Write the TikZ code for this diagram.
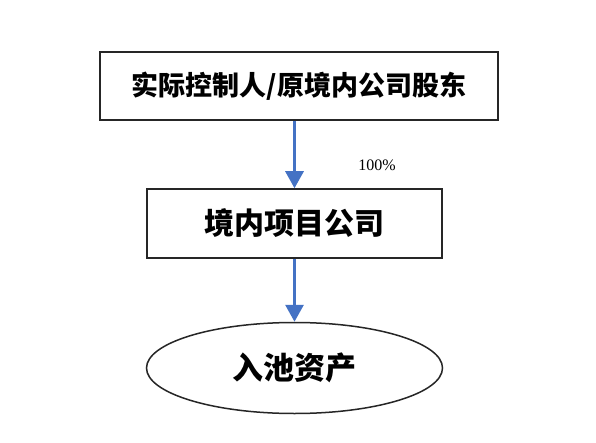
\documentclass[tikz,border=0pt]{standalone}
\usepackage{fontspec}
\newfontfamily\cjk{Noto Sans CJK SC}
\setmainfont{Liberation Serif}
\usetikzlibrary{arrows.meta,shapes.geometric}
\definecolor{arrowblue}{RGB}{68,114,196}
\tikzset{
  box/.style={draw=black!85, line width=1.5pt, minimum width=#1, inner sep=0pt},
  link/.style={draw=arrowblue, line width=3pt, -{Triangle[width=18pt,length=17pt]}}
}
\begin{document}
\begin{tikzpicture}[x=1pt,y=1pt]
\useasboundingbox[fill=white] (0,0) rectangle (596,442);
\node[box=398pt, minimum height=68pt, font=\cjk\bfseries\fontsize{27pt}{30pt}\selectfont] (top) at (299,356) {实际控制人/原境内公司股东};
\node[box=295pt, minimum height=69pt, font=\cjk\bfseries\fontsize{30pt}{34pt}\selectfont] (mid) at (294.5,218.5) {境内项目公司};
\node[box=296pt, ellipse, minimum height=91pt, font=\cjk\bfseries\fontsize{31pt}{35pt}\selectfont] (ell) at (294.5,74) {入池资产};
\node[font=\fontsize{16pt}{18pt}\selectfont] (pct) at (377,277) {100\%};
\draw[link] (mid.north |- top.south) -- (mid.north);
\draw[link] (mid.south) -- (ell.north);
\end{tikzpicture}
\end{document}
